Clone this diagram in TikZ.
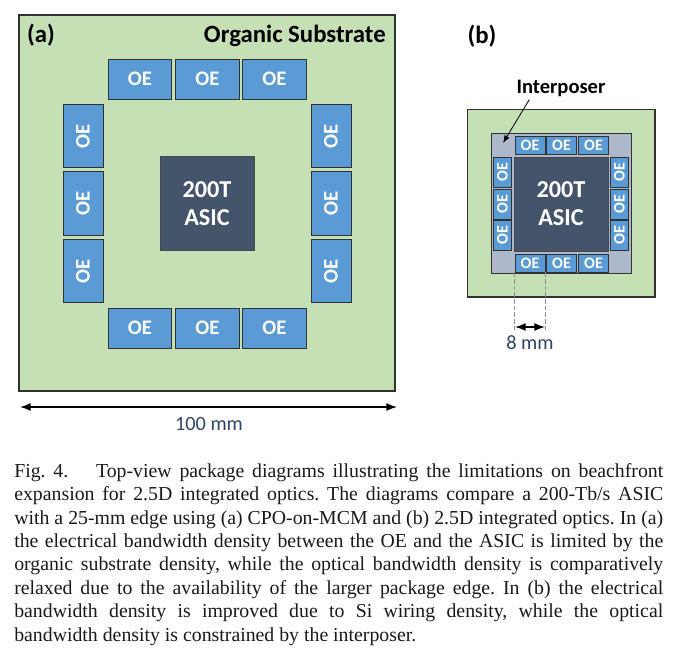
\documentclass[tikz,border=0pt]{standalone}
\usepackage{fontspec}
\setmainfont{Liberation Serif}
\newfontfamily\diagfont{Carlito}
\usepackage{xcolor}
\usetikzlibrary{arrows.meta, calc, positioning}
\definecolor{Ink}{HTML}{1A1A1A}
\definecolor{Board}{HTML}{C5E0B4}
\definecolor{OEBlue}{HTML}{5B9BD5}
\definecolor{Chip}{HTML}{44546A}
\definecolor{Silicon}{HTML}{ADB9CA}
\definecolor{DimText}{HTML}{2F4468}
\tikzset{
  board/.style={draw=Ink!90, fill=Board, line width=0.8pt},
  interposer/.style={draw=Ink!90, fill=Silicon, line width=0.7pt},
  asic/.style={draw=Ink!80, fill=Chip, line width=0.7pt, text=white, align=center, inner sep=0pt, font=\diagfont\bfseries\fontsize{18.2}{21}\selectfont},
  oe/.style={draw=Ink!90, fill=OEBlue, line width=0.7pt, text=white, inner sep=0pt},
  oebig/.style={oe, minimum width=47.5pt, minimum height=30pt, font=\diagfont\bfseries\fontsize{15.5}{15.5}\selectfont},
  oebigv/.style={oe, minimum width=30pt, minimum height=47.5pt, font=\diagfont\bfseries\fontsize{15.5}{15.5}\selectfont},
  oesmall/.style={oe, minimum width=22.5pt, minimum height=13.5pt, font=\diagfont\bfseries\fontsize{12}{12}\selectfont},
  oesmallv/.style={oe, minimum width=13.5pt, minimum height=22.5pt, font=\diagfont\bfseries\fontsize{12}{12}\selectfont},
  tag/.style={text=black, inner sep=0pt, font=\diagfont\bfseries\fontsize{18.6}{18.6}\selectfont},
  dimlabel/.style={text=DimText, inner sep=0pt, font=\diagfont\fontsize{15.2}{15.2}\selectfont},
  dim/.style={Latex-Latex, line width=1.1pt, color=black},
  guide/.style={dash pattern=on 3.5pt off 1.5pt, color=black!45, line width=0.5pt},
}
\begin{document}
\begin{tikzpicture}[x=0.75pt, y=-0.75pt]
  \useasboundingbox (0,0) rectangle (674,649);

  % Panel (a)
  \draw[board] (19,15) rectangle (395,391);
  \node[tag] (taga) at (41,35.5) {(a)};
  \node[tag, anchor=east] (subs) at (386,35.5) {Organic Substrate};
  \node[asic, minimum width=70.5pt, minimum height=71pt] (asica) at (207,203.5) {200T\\ASIC};
  % OE blocks, top and bottom rows
  \foreach \x/\n in {140/1,207.5/2,274.5/3}{
    \node[oebig] (at\n) at (\x,79) {OE};
    \node[oebig] (ab\n) at (\x,328) {OE};
  }
  % OE blocks, left and right columns
  \foreach \y/\n in {136/1,203.5/2,271/3}{
    \node[oebigv] (al\n) at (83,\y) {\rotatebox{90}{OE}};
    \node[oebigv] (ar\n) at (331,\y) {\rotatebox{90}{OE}};
  }
  \coordinate (wa) at (20,407);
  \coordinate (ea) at (397,407);
  \draw[dim] (wa) -- (ea);
  \node[dimlabel] (widtha) at (209,424) {100 mm};

  % Panel (b)
  \node[tag] (tagb) at (482,36) {(b)};
  \draw[board] (467.5,109.5) rectangle (655,297);
  \node[interposer, minimum width=105.5pt, minimum height=105.5pt, inner sep=0pt] (inter) at (561.5,203.5) {};
  \node[asic, minimum width=70.5pt, minimum height=70.5pt] (asicb) at (561,204) {200T\\ASIC};
  \foreach \x/\n in {530/1,561.5/2,593.5/3}{
    \node[oesmall] (bt\n) at (\x,145) {OE};
    \node[oesmall] (bb\n) at (\x,263) {OE};
  }
  \foreach \y/\n in {172/1,204/2,235.5/3}{
    \node[oesmallv] (bl\n) at (502.5,\y) {\rotatebox{90}{OE}};
    \node[oesmallv] (br\n) at (619.5,\y) {\rotatebox{90}{OE}};
  }
  \node[tag, font=\diagfont\bfseries\fontsize{15.4}{15.4}\selectfont] (interlabel) at (561,88) {Interposer};
  \coordinate (interpt) at (503,143);
  \draw[-Latex, line width=0.6pt, black] (interlabel.south west) ++(13,3) -- (interpt);
  % 8 mm dimension
  \coordinate (g1) at (515,330);
  \coordinate (g2) at (545,330);
  \draw[guide] (bb1.south west) -- (bb1.south west |- g1);
  \draw[guide] (bb1.south east) -- (bb1.south east |- g2);
  \coordinate (wb) at (515,327);
  \coordinate (eb) at (545,327);
  \draw[dim] (wb) -- (eb);
  \node[dimlabel] (widthb) at (530,343) {8 mm};

  % Caption
  \node[anchor=north west, inner sep=0pt, text width=486.75pt, align=justify, text=black!90, font=\fontsize{14.85}{17.55}\selectfont\frenchspacing] (caption) at (14,463) {%
    Fig. 4.\hspace{1.4em}Top-view package diagrams illustrating the limitations on beachfront\linebreak
    expansion for 2.5D integrated optics. The diagrams compare a 200-Tb/s ASIC\linebreak
    with a 25-mm edge using (a) CPO-on-MCM and (b) 2.5D integrated optics. In (a)\linebreak
    the electrical bandwidth density between the OE and the ASIC is limited by the\linebreak
    organic substrate density, while the optical bandwidth density is comparatively\linebreak
    relaxed due to the availability of the larger package edge. In (b) the electrical\linebreak
    bandwidth density is improved due to Si wiring density, while the optical\linebreak
    bandwidth density is constrained by the interposer.};
\end{tikzpicture}
\end{document}
